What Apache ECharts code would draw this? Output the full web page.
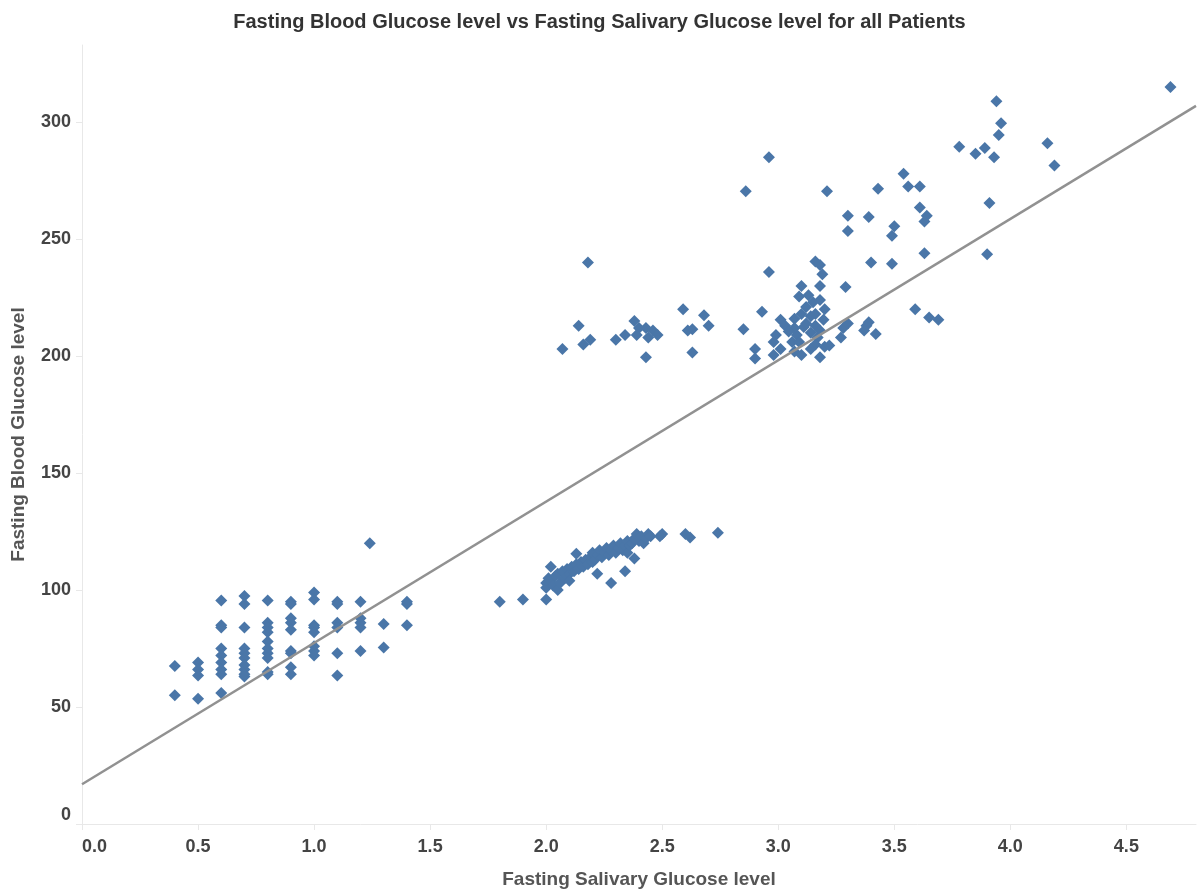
<!DOCTYPE html>
<html>
<head>
<meta charset="utf-8">
<script src="https://cdn.jsdelivr.net/npm/echarts@6/dist/echarts.min.js"></script>
<style>html,body{margin:0;padding:0;background:#fff;}#c{width:1199px;height:891px;}</style>
</head>
<body>
<div id="c"></div>
<script>
// Fasting Salivary Glucose level (x) and Fasting Blood Glucose level (y)
const salivary = [
  0.4,0.4,
  0.5,0.5,0.5,0.5,
  0.6,0.6,0.6,0.6,0.6,0.6,0.6,0.6,0.6,
  0.7,0.7,0.7,0.7,0.7,0.7,0.7,0.7,0.7,0.7,
  0.8,0.8,0.8,0.8,0.8,0.8,0.8,0.8,0.8,0.8,
  0.9,0.9,0.9,0.9,0.9,0.9,0.9,0.9,0.9,
  1.0,1.0,1.0,1.0,1.0,1.0,1.0,1.0,
  1.1,1.1,1.1,1.1,1.1,1.1,
  1.2,1.2,1.2,1.2,1.2,
  1.24,
  1.3,1.3,
  1.4,1.4,1.4,
  1.80,1.90,2.00,
  2.00,2.00,2.01,2.02,2.02,2.03,2.04,2.05,2.05,2.06,2.07,2.08,2.09,2.09,2.10,2.10,2.11,2.12,2.13,2.13,2.14,2.15,2.16,2.17,2.18,2.19,2.20,2.20,2.21,2.22,2.22,2.23,2.24,2.25,2.26,2.27,2.28,2.28,2.29,2.30,2.31,2.32,2.33,2.34,2.34,2.35,2.35,2.36,2.37,2.38,2.38,2.39,2.40,2.41,2.42,2.43,2.44,2.45,2.50,2.49,2.60,2.62,2.74,
  2.18,2.14,2.07,2.16,2.19,2.30,2.34,2.38,2.40,2.39,2.43,2.44,2.46,2.48,2.43,2.59,2.61,2.63,2.63,2.68,2.70,2.85,2.86,2.96,2.96,2.93,2.90,2.90,
  3.12,3.10,3.14,3.16,3.195,3.07,3.01,3.03,2.99,2.98,2.98,3.01,3.06,3.08,3.07,3.11,3.14,3.17,3.16,3.07,3.10,3.14,3.18,3.20,3.12,3.16,3.18,3.09,3.045,3.22,3.10,3.18,3.29,3.09,3.16,3.18,3.19,3.21,3.13,3.15,3.20,3.18,
  3.38,3.39,3.42,3.37,3.28,3.27,3.30,3.59,3.65,3.69,3.40,3.49,3.30,3.39,3.30,3.50,3.49,3.63,3.43,3.54,3.56,3.61,3.61,3.64,3.63,
  3.78,3.85,3.89,3.93,3.94,3.96,3.95,4.16,4.19,3.91,3.90,4.69
];
const blood = [
  67.5,55,
  69,66,63.5,53.5,
  95.5,85,84,75,72,69,66,64,56,
  97.5,94,84,75,73,71,68,66,64,63,
  95.5,86,84,82,78,75,73,71,65,64,
  95,94,88,86,83,74,73,67,64,
  99,96,85,84,82,76,74,72,
  95,94,86,84,73,63.5,
  95,88,86,84,74,
  120,
  85.5,75.5,
  95,94,85,
  95,96,96,
  103,101,105,104,110,102,106,100,107,103,108,105,109,106,107,104,110,108,111,115.5,109,112,110,113,111,114,112,116,113,115,107,117,114,116,118,115,103,117,119,116,118,120,117,108,119,121,116,119,120,122,113.5,124,121,123,120,122,124,123,124,123,124,122.5,124.5,
  240,213,203,205,207,207,209,215,212,209,212,208,211,209,199.5,220,211,211.5,201.5,217.5,213,211.5,270.5,285,236,219,203,199,
  221,218,217,218,215.5,216,215.5,213,209,206,200.5,203,206,209,212,212.5,210,208,205,202,200.5,203,199.5,204,214,213,211,206,210.5,204.5,230,230,229.5,225.5,240.5,239,235,270.5,226,223,220,224,
  213,214.5,209.5,211,212,208,214,220,216.5,215.5,240,239.5,260,259.5,253.5,255.5,251.5,244,271.5,278,272.5,272.5,263.5,260,257.5,
  289.5,286.5,289,285,309,299.5,294.5,291,281.5,265.5,243.5,315
];
// Trend line end points
const trendX = [0, 4.8];
const trendY = [17, 307];
const xTicks = ['0.0','0.5','1.0','1.5','2.0','2.5','3.0','3.5','4.0','4.5'];
const yTicks = [0,50,100,150,200,250,300];

const points = salivary.map((x, i) => [x, blood[i]]);
const trend = trendX.map((x, i) => [x, trendY[i]]);
const FONT = '"Liberation Sans", Arial, sans-serif';

const chart = echarts.init(document.getElementById('c'), null, {renderer: 'canvas'});
chart.setOption({
  animation: false,
  backgroundColor: '#ffffff',
  title: {
    text: 'Fasting Blood Glucose level vs Fasting Salivary Glucose level for all Patients',
    left: 'center', top: 7,
    textStyle: {fontFamily: FONT, fontSize: 20, fontWeight: 'bold', color: '#333333'}
  },
  grid: {left: 82, right: 3, top: 45, bottom: 67, containLabel: false, outerBoundsMode: 'none'},
  xAxis: {
    type: 'value', min: 0, max: 4.8, interval: 0.5,
    name: 'Fasting Salivary Glucose level', nameLocation: 'middle', nameGap: 46,
    nameTextStyle: {fontFamily: FONT, fontSize: 19, fontWeight: 'bold', color: '#555555'},
    axisLine: {show: true, lineStyle: {color: '#e8e8e8', width: 1}},
    axisTick: {show: true, length: 6, lineStyle: {color: '#e8e8e8'}},
    splitLine: {show: false},
    axisLabel: {
      margin: 14, fontFamily: FONT, fontSize: 18, fontWeight: 'bold', color: '#444444',
      showMaxLabel: false, alignMinLabel: 'left',
      formatter: v => { const k = Math.round(v * 2); return Math.abs(v * 2 - k) < 1e-6 && k < xTicks.length ? xTicks[k] : ''; }
    }
  },
  yAxis: {
    type: 'value', min: 0, max: 333, interval: 50,
    name: 'Fasting Blood Glucose level', nameLocation: 'middle', nameGap: 54, nameRotate: 90,
    nameTextStyle: {fontFamily: FONT, fontSize: 19, fontWeight: 'bold', color: '#555555'},
    axisLine: {show: true, lineStyle: {color: '#e8e8e8', width: 1}},
    axisTick: {show: true, length: 6, lineStyle: {color: '#e8e8e8'}},
    splitLine: {show: false},
    axisLabel: {
      margin: 11, fontFamily: FONT, fontSize: 18, fontWeight: 'bold', color: '#444444',
      showMaxLabel: false, verticalAlignMinLabel: 'bottom',
      formatter: v => yTicks.indexOf(Math.round(v)) >= 0 && Math.abs(v - Math.round(v)) < 1e-6 ? String(Math.round(v)) : ''
    }
  },
  series: [
    {
      type: 'scatter', data: points, symbol: 'diamond', symbolSize: 12,
      itemStyle: {color: '#4a76a8', opacity: 1}, z: 2
    },
    {
      type: 'line', data: trend, symbol: 'none', z: 3,
      lineStyle: {color: '#919191', width: 2.5}
    }
  ]
});
</script>
</body>
</html>
